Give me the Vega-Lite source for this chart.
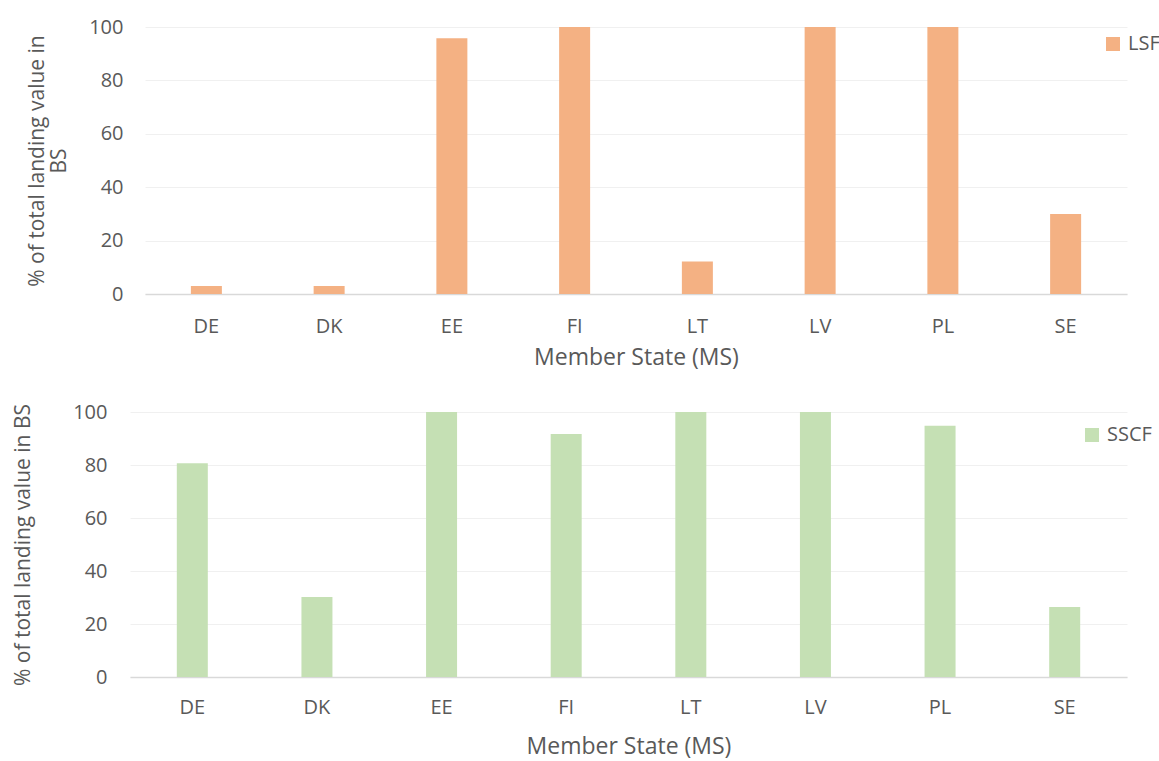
{
  "$schema": "https://vega.github.io/schema/vega-lite/v6.json",
  "padding": {"left": 12, "top": 17, "right": 0, "bottom": 6},
  "background": "white",
  "config": {
    "font": "Open Sans",
    "view": {"stroke": null},
    "axis": {"labelColor": "#595959", "titleColor": "#595959", "titleFontWeight": "normal", "labelFont": "Open Sans", "titleFont": "Open Sans"},
    "legend": {"labelColor": "#595959", "labelFont": "Open Sans"}
  },
  "datasets": {
    "lsf": [
      {"ms": "DE", "series": "LSF", "value": 3},
      {"ms": "DK", "series": "LSF", "value": 3},
      {"ms": "EE", "series": "LSF", "value": 95.8},
      {"ms": "FI", "series": "LSF", "value": 100},
      {"ms": "LT", "series": "LSF", "value": 12.2},
      {"ms": "LV", "series": "LSF", "value": 100},
      {"ms": "PL", "series": "LSF", "value": 100},
      {"ms": "SE", "series": "LSF", "value": 30}
    ],
    "sscf": [
      {"ms": "DE", "series": "SSCF", "value": 80.7},
      {"ms": "DK", "series": "SSCF", "value": 30.2},
      {"ms": "EE", "series": "SSCF", "value": 100},
      {"ms": "FI", "series": "SSCF", "value": 91.7},
      {"ms": "LT", "series": "SSCF", "value": 100},
      {"ms": "LV", "series": "SSCF", "value": 100},
      {"ms": "PL", "series": "SSCF", "value": 94.8},
      {"ms": "SE", "series": "SSCF", "value": 26.4}
    ]
  },
  "spacing": 33,
  "vconcat": [
    {
      "width": 997,
      "height": 267,
      "data": {"name": "lsf"},
      "mark": {"type": "bar", "width": 31},
      "encoding": {
        "x": {
          "field": "ms", "type": "nominal", "sort": null,
          "scale": {"range": [15, 997], "paddingInner": 0, "paddingOuter": 0},
          "axis": {"labelAngle": 0, "ticks": false, "domainColor": "#D9D9D9", "domainWidth": 1.5, "labelFontSize": 20, "labelPadding": 22, "title": "Member State (MS)", "titleFontSize": 23, "titlePadding": 10, "grid": false}
        },
        "y": {
          "field": "value", "type": "quantitative",
          "scale": {"domain": [0, 100]},
          "axis": {"values": [0, 20, 40, 60, 80, 100], "domain": false, "ticks": false, "grid": true, "gridColor": "#F0F0F0", "labelFontSize": 20, "labelPadding": 7, "title": ["% of total landing value in", "BS"], "titleFontSize": 21, "titleLineHeight": 22, "titlePadding": 19}
        },
        "color": {
          "field": "series", "type": "nominal",
          "scale": {"range": ["#F4B183"]},
          "legend": {"orient": "none", "legendX": 973, "legendY": 7, "title": null, "padding": 0, "symbolType": "square", "symbolSize": 196, "symbolStrokeWidth": 0, "labelFontSize": 20, "labelOffset": 5}
        }
      }
    },
    {
      "width": 997,
      "height": 265,
      "data": {"name": "sscf"},
      "mark": {"type": "bar", "width": 31},
      "encoding": {
        "x": {
          "field": "ms", "type": "nominal", "sort": null,
          "scale": {"paddingInner": 0, "paddingOuter": 0},
          "axis": {"labelAngle": 0, "ticks": false, "domainColor": "#D9D9D9", "domainWidth": 1.5, "labelFontSize": 20, "labelPadding": 20, "title": "Member State (MS)", "titleFontSize": 23, "titlePadding": 18, "grid": false}
        },
        "y": {
          "field": "value", "type": "quantitative",
          "scale": {"domain": [0, 100]},
          "axis": {"values": [0, 20, 40, 60, 80, 100], "domain": false, "ticks": false, "grid": true, "gridColor": "#F0F0F0", "labelFontSize": 20, "labelPadding": 23, "title": "% of total landing value in BS", "titleFontSize": 21, "titlePadding": 39}
        },
        "color": {
          "field": "series", "type": "nominal",
          "scale": {"range": ["#C5E0B4"]},
          "legend": {"orient": "none", "legendX": 952, "legendY": 13, "title": null, "padding": 0, "symbolType": "square", "symbolSize": 196, "symbolStrokeWidth": 0, "labelFontSize": 20, "labelOffset": 5}
        }
      }
    }
  ],
  "resolve": {"scale": {"color": "independent", "x": "independent", "y": "independent"}, "legend": {"color": "independent"}}
}
